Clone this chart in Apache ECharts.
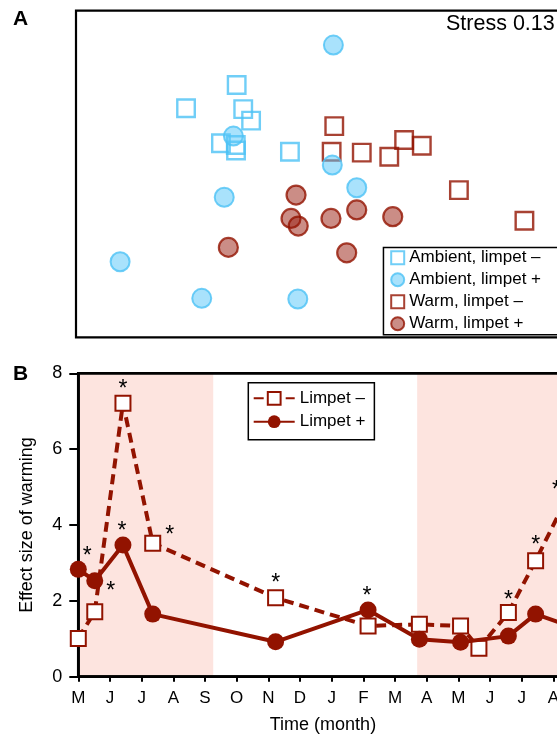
<!DOCTYPE html>
<html><head><meta charset="utf-8">
<script src="https://cdn.jsdelivr.net/npm/echarts@6.0.0/dist/echarts.min.js"></script>
<style>html,body{margin:0;padding:0;background:#fff;overflow:hidden}#c{width:557px;height:734px}</style>
</head><body><div id="c"></div><script>
// ---------- Panel A: NMDS ordination ----------
const ambMinusX = [-0.464, -0.696, -0.434, -0.398, -0.536, -0.468, -0.467, -0.220];
const ambMinusY = [0.409, 0.302, 0.298, 0.245, 0.141, 0.133, 0.108, 0.102];
const ambPlusX = [-0.021, -0.479, -0.026, 0.086, -0.521, -0.998, -0.624, -0.184];
const ambPlusY = [0.592, 0.174, 0.041, -0.063, -0.107, -0.403, -0.571, -0.574];
const warmMinusX = [-0.017, -0.029, 0.109, 0.235, 0.303, 0.384, 0.554, 0.854];
const warmMinusY = [0.220, 0.102, 0.098, 0.079, 0.156, 0.130, -0.074, -0.215];
const warmPlusX = [-0.192, -0.215, -0.182, -0.502, -0.032, 0.086, 0.251, 0.040];
const warmPlusY = [-0.097, -0.204, -0.239, -0.337, -0.204, -0.165, -0.196, -0.362];
const stressText = 'Stress 0.13';
const groupNames = ['Ambient, limpet \u2013', 'Ambient, limpet +', 'Warm, limpet \u2013', 'Warm, limpet +'];

// ---------- Panel B: effect size of warming ----------
const monthLabels = ['M','J','J','A','S','O','N','D','J','F','M','A','M','J','J','A'];
const timeMinus = [0, 0.52, 1.41, 2.35, 6.23, 9.15, 10.77, 12.07, 12.65, 13.58, 14.44, 15.45];
const limpetMinus = [1.01, 1.71, 7.21, 3.52, 2.08, 1.34, 1.38, 1.34, 0.75, 1.69, 3.06, 4.75];
const sigMinus = [0, 1, 1, 1, 1, 0, 0, 0, 0, 1, 1, 1];
const timePlus = [0, 0.52, 1.41, 2.35, 6.23, 9.15, 10.77, 12.07, 13.58, 14.44, 15.45];
const limpetPlus = [2.83, 2.53, 3.47, 1.65, 0.92, 1.76, 0.99, 0.91, 1.07, 1.65, 1.35];
const sigPlus = [1, 0, 1, 0, 0, 1, 0, 0, 0, 0, 0];
const warmPeriods = [[0, 4.26], [10.70, 15.45]];
const lineNames = ['Limpet \u2013', 'Limpet +'];

// ---------- styles ----------
const FONT = 'Liberation Sans, Arial, Helvetica, sans-serif';
const BLUE = '#4cc2f5', BLUE_FILL = 'rgba(90,200,250,0.65)';
const RED = '#921300', RED_FILL = 'rgba(150,25,10,0.62)';
const PINK = '#fde4df';
const starOffsetMinus = {1: [16, -20], 2: [0, -14], 3: [17, -8], 4: [0, -14], 9: [0, -12], 10: [0, -15], 11: [-11, -6]};
const starOffsetPlus = {0: [9, -13], 2: [-1, -13], 5: [-1, -13]};

function zip(xs, ys) { return xs.map((x, i) => [x, ys[i]]); }
function withStars(xs, ys, sig, offs) {
  return xs.map((x, i) => {
    const item = {value: [x, ys[i]]};
    if (sig[i]) item.label = {show: true, formatter: '*', position: 'inside', offset: offs[i] || [0, -14],
      fontSize: 23, color: '#000', fontFamily: FONT};
    return item;
  });
}

const chart = echarts.init(document.getElementById('c'), null, {renderer: 'canvas'});
chart.setOption({
  animation: false,
  backgroundColor: '#fff',
  textStyle: {fontFamily: FONT},
  graphic: [
    {type: 'text', left: 13, top: 9, z: 10, style: {text: 'A', font: 'bold 21px ' + FONT, fill: '#000'}},
    {type: 'text', left: 13, top: 364, z: 10, style: {text: 'B', font: 'bold 21px ' + FONT, fill: '#000'}},
    {type: 'text', left: 446, top: 13, z: 10, style: {text: stressText, font: '21.5px ' + FONT, fill: '#000'}},
    {type: 'rect', left: 382.7, top: 246.7, z: 5, shape: {x: 0, y: 0, width: 220, height: 87.3},
     style: {fill: '#fff', stroke: '#000', lineWidth: 1.5}}
  ],
  grid: [
    {left: 76, top: 10.7, width: 491.2, height: 326.6, outerBoundsMode: 'none', containLabel: false,
     show: true, borderColor: '#000', borderWidth: 2.2, backgroundColor: 'transparent', z: 3},
    {left: 78.3, top: 373.3, width: 489.3, height: 303.4, outerBoundsMode: 'none', containLabel: false,
     show: true, borderColor: '#000', borderWidth: 2.7, backgroundColor: 'transparent', z: 3}
  ],
  xAxis: [
    {gridIndex: 0, type: 'value', min: -1.2, max: 1.05, show: false},
    {gridIndex: 1, type: 'value', min: 0, max: 15.45, interval: 1, z: 3,
     axisLine: {show: true, lineStyle: {color: '#000', width: 2.7}},
     axisTick: {show: true, inside: false, length: 5, lineStyle: {color: '#000', width: 2}},
     splitLine: {show: false},
     axisLabel: {color: '#000', fontSize: 17, margin: 13, showMaxLabel: false, hideOverlap: false,
       formatter: v => (Number.isInteger(v) && monthLabels[v] !== undefined) ? monthLabels[v] : ''},
     name: 'Time (month)', nameLocation: 'middle', nameGap: 39,
     nameTextStyle: {color: '#000', fontSize: 18}}
  ],
  yAxis: [
    {gridIndex: 0, type: 'value', min: -0.75, max: 0.75, show: false},
    {gridIndex: 1, type: 'value', min: 0, max: 8, interval: 2, z: 3,
     axisLine: {show: true, lineStyle: {color: '#000', width: 2.7}},
     axisTick: {show: true, inside: false, length: 9, lineStyle: {color: '#000', width: 2}},
     splitLine: {show: false},
     axisLabel: {color: '#000', fontSize: 18, margin: 16},
     name: 'Effect size of warming', nameLocation: 'middle', nameGap: 42, nameRotate: 90,
     nameTextStyle: {color: '#000', fontSize: 18}}
  ],
  legend: [
    {left: 382.7, top: 246.7, orient: 'vertical', selectedMode: false,
     data: groupNames, itemWidth: 13, itemHeight: 13, itemGap: 2, padding: [1, 10, 1, 7.5],
     borderWidth: 0, backgroundColor: 'transparent', z: 6,
     textStyle: {color: '#000', fontSize: 17, lineHeight: 20, fontFamily: FONT}},
    {left: 248.3, top: 382.7, orient: 'vertical', selectedMode: false,
     data: lineNames, itemWidth: 41, itemHeight: 16, itemGap: 3.4, padding: [5.6, 9, 8, 4.4],
     borderColor: '#000', borderWidth: 1.5, backgroundColor: '#fff', z: 6,
     textStyle: {color: '#000', fontSize: 17, lineHeight: 20, fontFamily: FONT}}
  ],
  series: [
    {name: groupNames[0], type: 'scatter', xAxisIndex: 0, yAxisIndex: 0, symbol: 'rect', symbolSize: 17.5,
     data: zip(ambMinusX, ambMinusY), itemStyle: {color: 'rgba(255,255,255,0)', borderColor: BLUE, borderWidth: 2.4}, z: 4},
    {name: groupNames[2], type: 'scatter', xAxisIndex: 0, yAxisIndex: 0, symbol: 'rect', symbolSize: 17.5,
     data: zip(warmMinusX, warmMinusY), itemStyle: {color: 'rgba(255,255,255,0)', borderColor: RED, borderWidth: 2.4}, z: 4},
    {name: groupNames[1], type: 'scatter', xAxisIndex: 0, yAxisIndex: 0, symbol: 'circle', symbolSize: 19,
     data: zip(ambPlusX, ambPlusY), itemStyle: {color: BLUE_FILL, borderColor: BLUE, borderWidth: 2}, z: 4},
    {name: groupNames[3], type: 'scatter', xAxisIndex: 0, yAxisIndex: 0, symbol: 'circle', symbolSize: 19,
     data: zip(warmPlusX, warmPlusY), itemStyle: {color: RED_FILL, borderColor: RED, borderWidth: 2.2}, z: 4},
    {name: 'shade', type: 'line', xAxisIndex: 1, yAxisIndex: 1, data: [[0, 0]], showSymbol: false, silent: true,
     lineStyle: {width: 0, opacity: 0}, z: 1,
     markArea: {silent: true, itemStyle: {color: PINK}, data: warmPeriods.map(p => [{xAxis: p[0]}, {xAxis: p[1]}])}},
    {name: lineNames[0], type: 'line', xAxisIndex: 1, yAxisIndex: 1, symbol: 'rect', symbolSize: 15,
     data: withStars(timeMinus, limpetMinus, sigMinus, starOffsetMinus),
     lineStyle: {color: RED, width: 4, type: [10, 6]},
     itemStyle: {color: '#fff', borderColor: RED, borderWidth: 2}, z: 4},
    {name: lineNames[1], type: 'line', xAxisIndex: 1, yAxisIndex: 1, symbol: 'circle', symbolSize: 17,
     data: withStars(timePlus, limpetPlus, sigPlus, starOffsetPlus),
     lineStyle: {color: RED, width: 4},
     itemStyle: {color: RED, borderColor: RED, borderWidth: 0}, z: 5}
  ]
});
</script></body></html>
